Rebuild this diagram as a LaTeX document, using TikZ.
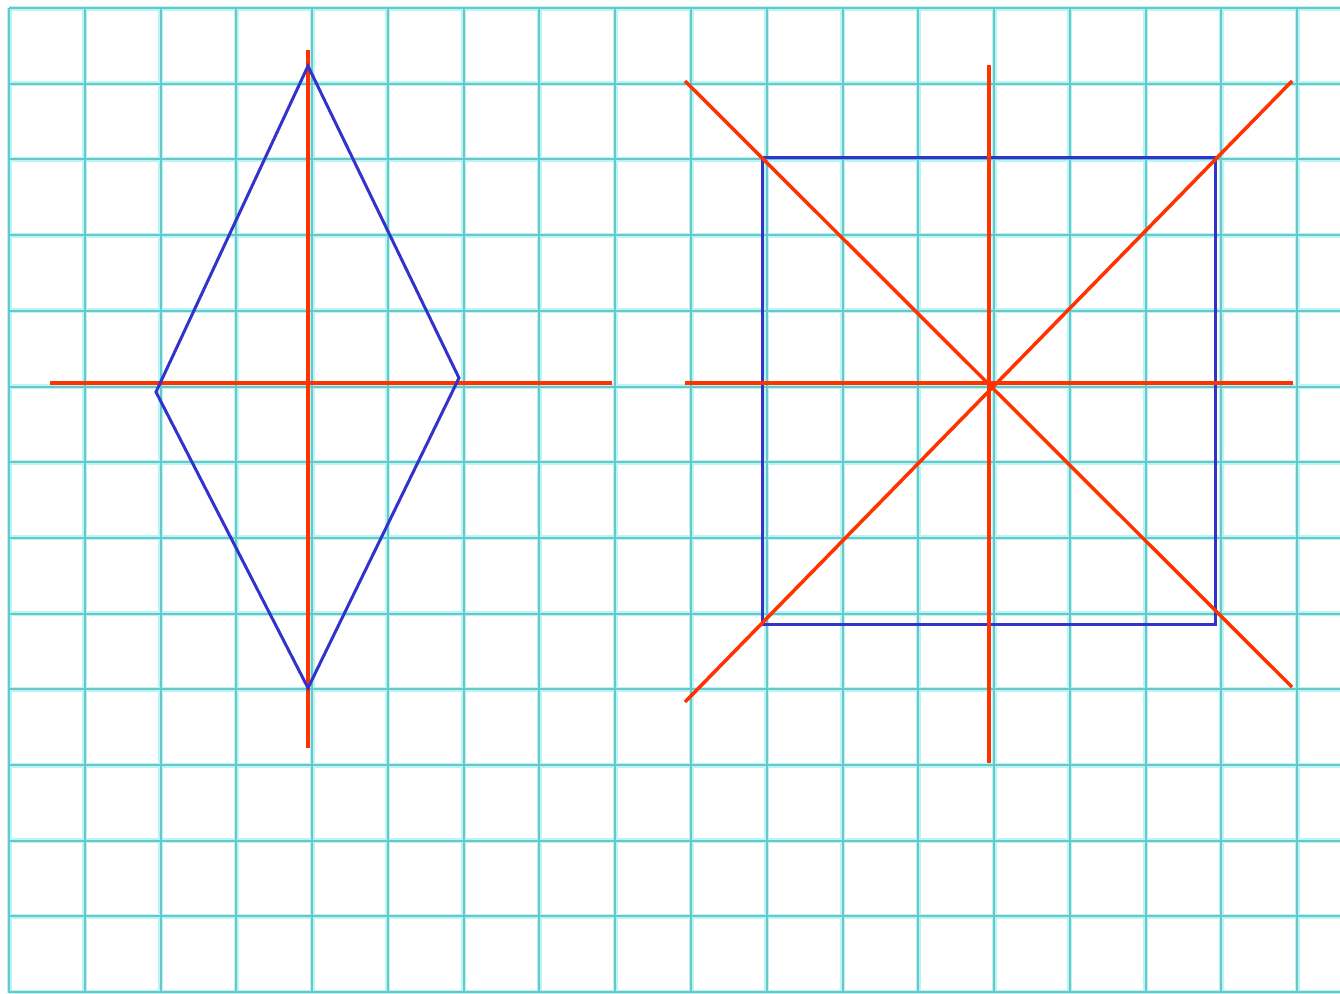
\documentclass[tikz,border=0pt]{standalone}
\definecolor{gridc}{RGB}{102,200,200}
\definecolor{gridglow}{RGB}{185,245,245}
\definecolor{axisred}{RGB}{255,51,0}
\definecolor{shapeblue}{RGB}{51,51,204}
\begin{document}
\begin{tikzpicture}[x=1pt,y=-1pt,
  gridglowline/.style={gridglow,line width=5pt},
  gridline/.style={gridc,line width=2pt},
  axis/.style={axisred,line width=3.5pt},
  figure/.style={shapeblue,line width=3pt,line join=miter}]
\useasboundingbox (0,0) rectangle (1340,993);
\fill[white] (0,0) rectangle (1340,993);
% grid
\foreach \i in {0,...,17}{
  \draw[gridglowline] ({9+75.78*\i},8) -- ({9+75.78*\i},993);
}
\foreach \j in {0,...,13}{
  \draw[gridglowline] (9,{8+75.7*\j}) -- (1340,{8+75.7*\j});
}
\foreach \i in {0,...,17}{
  \draw[gridline] ({9+75.78*\i},8) -- ({9+75.78*\i},993);
}
\foreach \j in {0,...,13}{
  \draw[gridline] (9,{8+75.7*\j}) -- (1340,{8+75.7*\j});
}
% left figure: rhombus
\coordinate (dt) at (308,66);
\coordinate (dr) at (459,378);
\coordinate (db) at (308,688);
\coordinate (dl) at (156,392);
\draw[axis] (308,50) -- (308,748);
\draw[axis] (50,383) -- (612,383);
\draw[figure] (dt) -- (dr) -- (db) -- (dl) -- cycle;
% right figure: square
\coordinate (sa) at (762,157);
\coordinate (sb) at (1215,624);
\draw[figure] (sa) rectangle (sb);
\draw[axis] (989,65) -- (989,763);
\draw[axis] (685,383) -- (1293,383);
\draw[axis] (685,81) -- (1292,687);
\draw[axis] (1292,81) -- (685,702);
\end{tikzpicture}
\end{document}
